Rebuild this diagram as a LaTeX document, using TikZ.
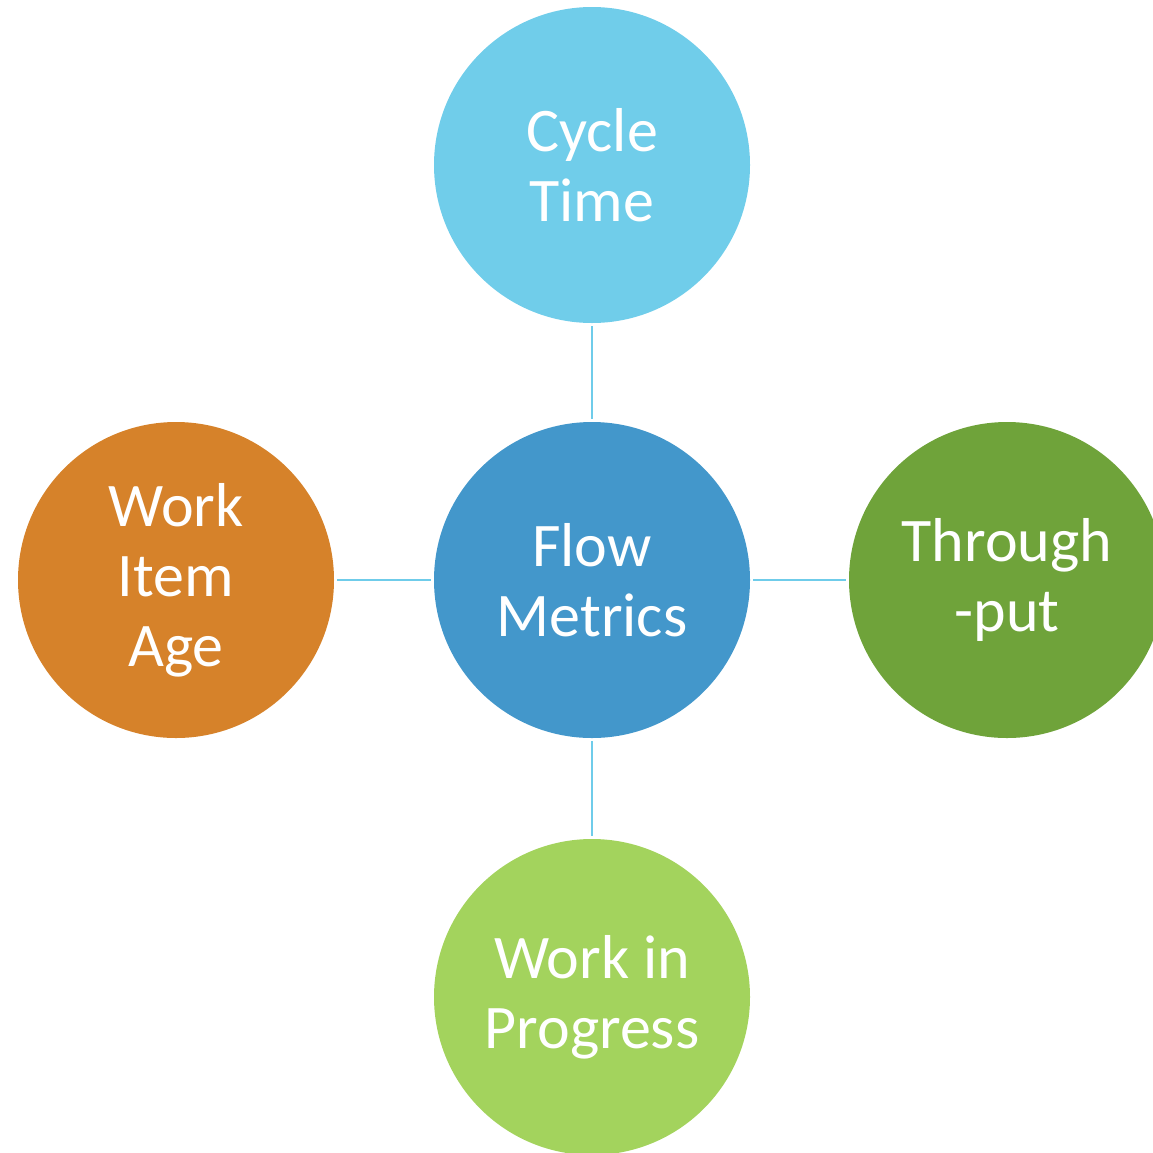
\documentclass[tikz,border=0pt]{standalone}
\usepackage{fontspec}
\setmainfont{Carlito}
\definecolor{cTop}{HTML}{70CDEA}
\definecolor{cMid}{HTML}{4397CB}
\definecolor{cLeft}{HTML}{D6822A}
\definecolor{cRight}{HTML}{6FA33A}
\definecolor{cBot}{HTML}{A3D35D}
\definecolor{cLine}{HTML}{6FCCEA}
\begin{document}
\begin{tikzpicture}[x=1pt,y=1pt,
  bubble/.style={circle,minimum size=316pt,inner sep=0pt,fill=#1,text=white,
    align=center,font=\fontsize{62}{70}\selectfont},
  link/.style={draw=cLine,line width=2.4pt,shorten <=3pt,shorten >=3pt}]
\useasboundingbox (0,0) rectangle (1153,-1152);
\clip (0,0) rectangle (1153,-1152);
\node[bubble=cMid] (mid) at (592,-580) {Flow\\Metrics};
\node[bubble=cTop] (top) at (592,-165) {Cycle\\Time};
\node[bubble=cLeft] (left) at (176,-580) {Work\\Item\\Age};
\node[bubble=cRight] (right) at (1007,-580) {Through\\-put};
\node[bubble=cBot] (bot) at (592,-997) {Work in\\Progress};
\draw[link] (top) -- (mid);
\draw[link] (left) -- (mid);
\draw[link] (mid) -- (right);
\draw[link] (mid) -- (bot);
\end{tikzpicture}
\end{document}
